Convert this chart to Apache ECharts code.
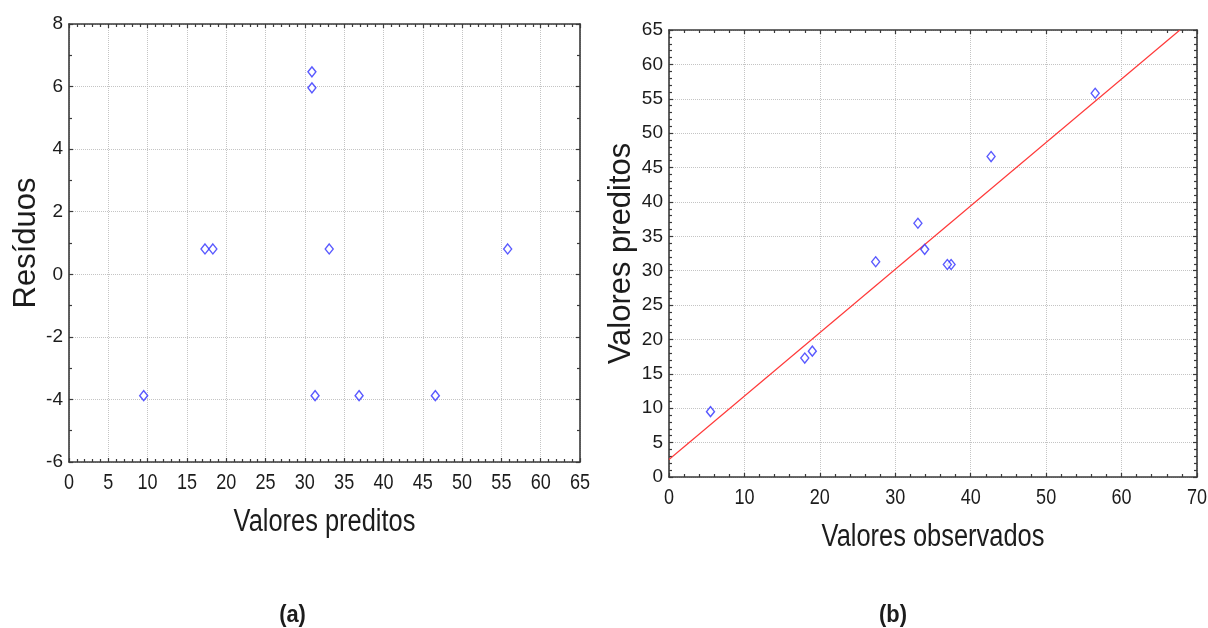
<!DOCTYPE html>
<html>
<head>
<meta charset="utf-8">
<script src="https://cdn.jsdelivr.net/npm/echarts@6/dist/echarts.min.js"></script>
<style>
  html, body { margin: 0; padding: 0; background: #ffffff; }
  #chart { width: 1208px; height: 628px; }
</style>
</head>
<body>
<div id="chart"></div>
<script>
// Fitted values, residuals and observed values of the model (one entry per run)
const predito   = [9.5, 17.3, 18.3, 30.9, 30.9, 31.3, 33.1, 36.9, 46.6, 55.8];
const residuo   = [-3.88, 0.81, 0.81, 6.47, 5.96, -3.88, 0.81, -3.88, -3.88, 0.81];
const observado = [5.5, 18.0, 19.0, 37.4, 36.9, 27.4, 33.9, 33.0, 42.7, 56.5];

// Reference line drawn over the observed vs predicted panel
const retaIntercepto = 2.55;
const retaInclinacao = 0.922;

// Axis ranges and tick steps
const eixoResX = { min: 0, max: 65, interval: 5 };
const eixoResY = { min: -6, max: 8, interval: 2 };
const eixoObsX = { min: 0, max: 70, interval: 10 };
const eixoObsY = { min: 0, max: 65, interval: 5 };

// Horizontal tick labels (drawn in a condensed style)
const rotulosResX = ['0', '5', '10', '15', '20', '25', '30', '35', '40', '45', '50', '55', '60', '65'];
const rotulosObsX = ['0', '10', '20', '30', '40', '50', '60', '70'];

const titulos = {
  resX: 'Valores preditos',
  resY: 'Resíduos',
  obsX: 'Valores observados',
  obsY: 'Valores preditos',
  painelA: '(a)',
  painelB: '(b)'
};

const REGULAR = "'Liberation Sans', Arial, sans-serif";
const AXIS_COLOR = '#3a3a3a';
const TEXT_COLOR = '#1c1c1c';
const BLUE = '#2f2fff';
const RED = '#ff3a3a';
const CONDENSE = 0.82;   // horizontal squeeze for the narrow lettering

function frameAxis(range, pos, gridIndex, minorSplit) {
  return {
    type: 'value', gridIndex: gridIndex, position: pos,
    min: range.min, max: range.max, interval: range.interval,
    axisLine: { show: true, onZero: false, lineStyle: { color: AXIS_COLOR, width: 1.6 } },
    axisTick: { show: true, inside: true, length: 4, lineStyle: { color: AXIS_COLOR, width: 1.2 } },
    minorTick: { show: true, splitNumber: minorSplit, length: 3, lineStyle: { color: AXIS_COLOR, width: 1.2 } },
    axisLabel: { show: false },
    splitLine: { show: false }
  };
}

function mainAxis(range, pos, gridIndex, minorSplit) {
  const a = frameAxis(range, pos, gridIndex, minorSplit);
  a.splitLine = { show: true, lineStyle: { color: '#c4c4c4', type: 'dotted', width: 1 } };
  return a;
}

function leftAxis(range, gridIndex, minorSplit, name, nameGap, nameSize) {
  const a = mainAxis(range, 'left', gridIndex, minorSplit);
  a.axisLabel = { show: true, color: TEXT_COLOR, fontFamily: REGULAR, fontSize: 19, margin: 6 };
  a.name = name;
  a.nameLocation = 'middle';
  a.nameGap = nameGap;
  a.nameTextStyle = { fontFamily: REGULAR, fontSize: nameSize, color: TEXT_COLOR };
  return a;
}

const chart = echarts.init(document.getElementById('chart'), null, { renderer: 'canvas' });

const diamond = {
  symbol: 'diamond', symbolSize: [8, 10],
  itemStyle: { color: '#ffffff', borderColor: BLUE, borderWidth: 1.4 }
};

chart.setOption({
  backgroundColor: '#ffffff',
  animation: false,
  grid: [
    { left: 69, top: 24, width: 511, height: 438, containLabel: false },
    { left: 669, top: 30, width: 528, height: 447, containLabel: false }
  ],
  xAxis: [
    mainAxis(eixoResX, 'bottom', 0, 5),
    frameAxis(eixoResX, 'top', 0, 5),
    mainAxis(eixoObsX, 'bottom', 1, 5),
    frameAxis(eixoObsX, 'top', 1, 5)
  ],
  yAxis: [
    leftAxis(eixoResY, 0, 2, titulos.resY, 25, 31),
    frameAxis(eixoResY, 'right', 0, 2),
    leftAxis(eixoObsY, 1, 5, titulos.obsY, 32, 31),
    frameAxis(eixoObsY, 'right', 1, 5)
  ],
  series: [
    Object.assign({
      type: 'scatter', xAxisIndex: 0, yAxisIndex: 0,
      data: predito.map((p, i) => [p, residuo[i]])
    }, diamond),
    {
      type: 'line', xAxisIndex: 2, yAxisIndex: 2,
      data: [
        [eixoObsX.min, retaIntercepto + retaInclinacao * eixoObsX.min],
        [(eixoObsY.max - retaIntercepto) / retaInclinacao, eixoObsY.max]
      ],
      symbol: 'none', silent: true,
      lineStyle: { color: RED, width: 1.2 }
    },
    Object.assign({
      type: 'scatter', xAxisIndex: 2, yAxisIndex: 2,
      data: observado.map((o, i) => [o, predito[i]]),
      z: 3
    }, diamond)
  ]
});

// Condensed horizontal lettering: tick labels and titles under each panel,
// placed with the axes' own scales.
function condensedText(x, y, text, size, weight, squeeze) {
  return {
    type: 'text', x: x, y: y, scaleX: squeeze || CONDENSE, silent: true,
    style: {
      text: text, fill: TEXT_COLOR, align: 'center', verticalAlign: 'middle',
      font: (weight || 'normal') + ' ' + size + 'px ' + REGULAR
    }
  };
}

function bottomLettering(xIdx, yIdx, range, yRange, labels, title) {
  const out = [];
  const base = chart.convertToPixel({ yAxisIndex: yIdx }, yRange.min);
  labels.forEach(function (lab, i) {
    const px = chart.convertToPixel({ xAxisIndex: xIdx }, range.min + i * range.interval);
    out.push(condensedText(px, base + 21, lab, 22));
  });
  const mid = chart.convertToPixel({ xAxisIndex: xIdx }, (range.min + range.max) / 2);
  out.push(condensedText(mid, base + 60, title, 31));
  return out;
}

const letras = []
  .concat(bottomLettering(0, 0, eixoResX, eixoResY, rotulosResX, titulos.resX))
  .concat(bottomLettering(2, 2, eixoObsX, eixoObsY, rotulosObsX, titulos.obsX));

const midA = chart.convertToPixel({ xAxisIndex: 0 }, (eixoResX.min + eixoResX.max) / 2);
const midB = chart.convertToPixel({ xAxisIndex: 2 }, (eixoObsX.min + eixoObsX.max) / 2);
letras.push(condensedText(midA - 32, 616, titulos.painelA, 23, 'bold', 0.95));
letras.push(condensedText(midB - 40, 616, titulos.painelB, 23, 'bold', 0.95));

chart.setOption({ graphic: letras });
</script>
</body>
</html>
